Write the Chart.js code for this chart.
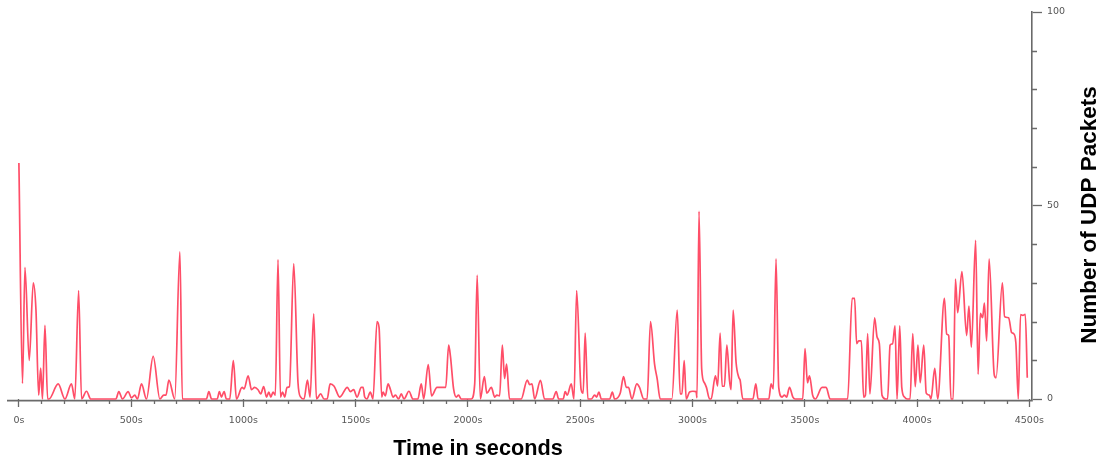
<!DOCTYPE html>
<html><head><meta charset="utf-8">
<script src="https://cdn.jsdelivr.net/npm/chart.js@4/dist/chart.umd.min.js"></script>
<style>html,body{margin:0;padding:0;background:#fff}#wrap{width:1100px;height:459px}</style>
</head><body><div id="wrap"><canvas id="c" width="1100" height="459"></canvas></div>
<script>
// Time in seconds at which values were read
const times = [0,16,27,46,64,76,88,97,105,116,128,134,175,205,234,249,266,279,301,320,432,445,461,487,501,516,528,546,568,598,628,645,655,668,694,717,728,835,846,858,883,893,902,914,924,939,955,969,994,1003,1021,1036,1050,1065,1077,1090,1103,1113,1122,1132,1142,1154,1165,1174,1184,1194,1205,1224,1243,1255,1270,1285,1297,1313,1325,1344,1359,1373,1386,1404,1429,1463,1476,1491,1506,1525,1533,1540,1550,1565,1577,1595,1604,1616,1622,1632,1644,1655,1666,1677,1691,1703,1715,1737,1755,1777,1792,1803,1823,1838,1862,1901,1914,1922,1936,1948,1958,1970,2015,2030,2041,2055,2073,2084,2104,2119,2129,2141,2153,2163,2172,2185,2237,2264,2275,2285,2297,2323,2341,2378,2393,2404,2424,2433,2442,2460,2472,2484,2504,2513,2522,2534,2549,2564,2573,2583,2594,2631,2643,2653,2678,2693,2705,2715,2730,2752,2764,2783,2798,2813,2831,2843,2856,2908,2932,2945,2953,2963,2972,2987,3002,3016,3020,3029,3041,3053,3062,3076,3083,3102,3112,3123,3132,3142,3153,3165,3172,3181,3194,3206,3212,3224,3269,3282,3292,3340,3350,3360,3372,3384,3399,3409,3419,3432,3447,3457,3491,3501,3512,3521,3535,3547,3577,3595,3613,3691,3711,3722,3731,3740,3752,3762,3770,3780,3790,3811,3822,3832,3844,3860,3869,3880,3891,3902,3911,3923,3932,3944,3956,3969,3981,3992,4004,4014,4030,4041,4055,4062,4079,4092,4122,4132,4141,4151,4161,4171,4181,4200,4221,4231,4242,4261,4272,4282,4292,4300,4310,4321,4344,4352,4380,4390,4408,4421,4430,4440,4451,4461,4471,4482,4491];
// Number of UDP packets at those times
const packets = [61,4,34,10,30,23,1,8,0,19,0,0,3.9,0,3.9,0,28,0,2,0,0,1.9,0,1.9,0.3,1,0,3.9,0,11,0,1,1,4.9,0,38,0,0,1.9,0,0,1.9,0.5,1.9,0,0,9.9,0,3,2.6,6,2.4,3,2.4,1.3,3.2,0.5,1.8,0.5,1.8,1,36,0.5,1.8,0.5,3,3.2,35,4.2,0.5,0,4.9,0.5,22,0,1.3,0,0,3.9,3.3,0.5,3,1.9,2.4,0.5,3,3,0.5,0,1.8,0,20,18.5,0.5,1.8,0.8,3.9,2.4,0.5,1,0,1.3,0,2,0,0,3.9,0,8.9,0.8,3,3,13.9,11,2.6,0.5,1,0,0,3.9,32,0,5.8,1.5,3,0.5,1,0.8,13.9,5.3,9,0,0,4.9,3.7,3.9,0,4.8,0,0,1.9,0,0,1.9,1,3.9,0,28,2.4,1.5,17,0,0,1,0.5,1.8,0,0,1.8,0,1.5,5.8,3,3,0,3.9,3,0,0,20,9,5.1,0,0,23,1.3,1.3,9.9,0,1.8,2,1.9,0.3,48.5,7.7,4.2,3,0,0,6,3.4,17,3.3,3.3,13.9,4.7,2.4,23,9.5,5.6,4.9,0,0,3.9,0,0,3.9,2.6,36.2,3,0.5,1,0.5,3,0.5,0,0,13,4.2,6,1,0,3,3,0,0,26,26,14.3,15,15,0.5,1,16.9,1.3,21,16,14.3,1,0,0,13.9,14.3,18.9,0,18.9,3,0.5,0,0,16.9,3.2,13.9,4.2,13.9,1.5,1,0,7.9,0,26,16.8,16.4,0,0,31,22.3,32.9,16.4,24,13.4,41,6.4,22.1,21,24.8,15,36.2,6.2,5.5,30,21.3,21,17.2,16.9,14.6,0,21.8,21.6,21.9,5.5];
const xTickValues = [0,100,200,300,400,500,600,700,800,900,1000,1100,1200,1300,1400,1500,1600,1700,1800,1900,2000,2100,2200,2300,2400,2500,2600,2700,2800,2900,3000,3100,3200,3300,3400,3500,3600,3700,3800,3900,4000,4100,4200,4300,4400,4500];
const xLabelValues = [0,500,1000,1500,2000,2500,3000,3500,4000,4500];
const yTickValues = [0,10,20,30,40,50,60,70,80,90,100];
const yLabelValues = [0,50,100];
const xTitle = 'Time in seconds';
const yTitle = 'Number of UDP Packets';

const AXIS = '#6a6a6a';
const points = times.map((t, i) => ({x: t, y: packets[i]}));

const extras = {
  id: 'extras',
  beforeDatasetsDraw(chart) {
    const ctx = chart.ctx, a = chart.chartArea;
    ctx.save();
    ctx.strokeStyle = AXIS; ctx.lineWidth = 1.6;
    ctx.beginPath();
    ctx.moveTo(a.left, a.bottom + 1.6); ctx.lineTo(a.right + 0.8, a.bottom + 1.6);
    ctx.stroke();
    ctx.restore();
  },
  afterDraw(chart) {
    const ctx = chart.ctx, xs = chart.scales.x, ys = chart.scales.y, a = chart.chartArea;
    ctx.save();
    ctx.strokeStyle = AXIS; ctx.lineWidth = 1.3;
    ctx.beginPath();
    xTickValues.forEach(v => {
      if (xLabelValues.includes(v)) return;
      const p = Math.round(xs.getPixelForValue(v)) + 0.5;
      ctx.moveTo(p, a.bottom + 1); ctx.lineTo(p, a.bottom + 5);
    });
    yTickValues.forEach(v => {
      if (yLabelValues.includes(v)) return;
      const p = Math.round(ys.getPixelForValue(v)) + 0.5;
      ctx.moveTo(a.right, p); ctx.lineTo(a.right + 5, p);
    });
    ctx.stroke();
    ctx.fillStyle = '#000';
    ctx.font = 'bold 21.7px "Liberation Sans", Arial, sans-serif';
    ctx.textAlign = 'center'; ctx.textBaseline = 'alphabetic';
    ctx.fillText(xTitle, 478, 455);
    ctx.translate(1096, 215);
    ctx.rotate(-Math.PI / 2);
    ctx.font = 'bold 22.5px "Liberation Sans", Arial, sans-serif';
    ctx.fillText(yTitle, 0, 0);
    ctx.restore();
  }
};

new Chart(document.getElementById('c'), {
  type: 'line',
  data: { datasets: [{
    data: points,
    borderColor: 'rgb(255,78,104)',
    borderWidth: 1.7,
    pointRadius: 0,
    fill: false,
    clip: 3,
    cubicInterpolationMode: 'monotone'
  }]},
  options: {
    responsive: false, animation: false, devicePixelRatio: 1,
    layout: { padding: { left: 7, top: 12, right: 0, bottom: 0 } },
    plugins: { legend: { display: false }, tooltip: { enabled: false } },
    scales: {
      x: {
        type: 'linear', min: -53, max: 4512,
        afterBuildTicks: s => { s.ticks = xLabelValues.map(v => ({ value: v })); },
        afterFit: s => { s.height = 60; },
        ticks: { autoSkip: false, maxRotation: 0, padding: 8, color: '#555',
          font: { family: '"DejaVu Sans", sans-serif', size: 9.5 },
          callback: v => v + 's' },
        grid: { drawOnChartArea: false, drawTicks: true, tickLength: 8, tickColor: AXIS, tickWidth: 1.3 },
        border: { display: false }
      },
      y: {
        position: 'right', min: 0, max: 100,
        afterBuildTicks: s => { s.ticks = yLabelValues.map(v => ({ value: v })); },
        afterFit: s => { s.width = 68; },
        ticks: { padding: 5, color: '#555',
          font: { family: '"DejaVu Sans", sans-serif', size: 9.5 },
          callback: v => String(v) },
        grid: { drawOnChartArea: false, drawTicks: true, tickLength: 10, tickColor: AXIS, tickWidth: 1.3 },
        border: { display: true, color: AXIS, width: 1.6 }
      }
    }
  },
  plugins: [extras]
});
</script>
</body></html>
